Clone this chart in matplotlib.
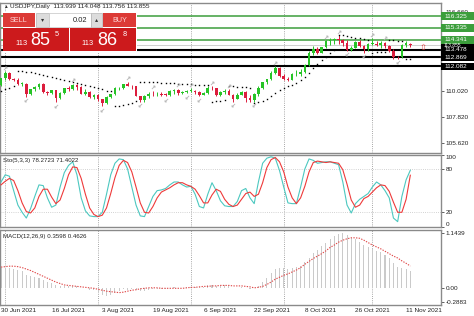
import matplotlib.pyplot as plt
import matplotlib.transforms as mtransforms
from matplotlib.patches import Rectangle
import numpy as np

plt.rcParams['font.family'] = ['Liberation Sans', 'DejaVu Sans']

W, H = 474, 316

# daily bars from 30 Jun 2021 to 12 Nov 2021
opens = [110.50, 111.10, 111.53, 111.05, 110.95, 110.62, 110.63, 109.77, 110.14, 110.36,
         110.62, 109.97, 109.83, 110.07, 109.45, 109.85, 110.27, 110.15, 110.55, 110.38,
         109.77, 109.91, 109.48, 109.71, 109.30, 109.04, 109.47, 109.77, 110.24, 110.30,
         110.59, 110.42, 110.41, 109.59, 109.26, 109.62, 109.77, 109.76, 109.79, 109.70,
         109.68, 110.00, 110.09, 109.84, 109.92, 110.02, 110.02, 109.93, 109.71, 109.84,
         110.27, 110.25, 109.71, 109.93, 110.04, 109.70, 109.38, 109.71, 109.94, 109.40,
         109.23, 109.74, 110.28, 110.73, 110.99, 111.50, 111.98, 111.29, 111.05, 110.95,
         111.42, 111.43, 111.61, 112.22, 113.25, 113.58, 113.25, 113.70, 114.21, 114.33,
         114.37, 114.34, 114.02, 113.46, 113.67, 114.13, 113.80, 113.57, 114.00, 114.01,
         113.92, 114.07, 113.77, 113.41, 112.89, 112.84, 113.90, 113.939]
highs = [111.12, 111.66, 111.65, 111.12, 111.15, 110.80, 110.70, 110.20, 110.40, 110.69,
         110.70, 110.05, 110.10, 110.08, 109.95, 110.30, 110.40, 110.60, 110.58, 110.42,
         110.15, 110.00, 109.75, 109.80, 109.35, 109.55, 109.80, 110.36, 110.38, 110.62,
         110.80, 110.48, 110.45, 109.62, 109.70, 109.90, 110.05, 109.95, 109.95, 109.85,
         110.10, 110.18, 110.18, 110.00, 110.10, 110.25, 110.10, 110.05, 109.90, 110.45,
         110.42, 110.30, 110.00, 110.15, 110.15, 109.75, 109.85, 110.05, 109.98, 109.65,
         109.85, 110.40, 110.80, 111.05, 111.68, 112.08, 112.00, 111.45, 111.20, 111.50,
         111.78, 111.85, 112.25, 113.40, 113.80, 113.75, 113.75, 114.30, 114.45, 114.50,
         114.70, 114.40, 114.30, 113.80, 114.20, 114.30, 113.90, 114.05, 114.45, 114.20,
         114.20, 114.15, 113.90, 113.55, 113.00, 114.00, 114.20, 114.048]
lows = [110.42, 110.98, 110.97, 110.86, 110.55, 110.40, 109.53, 109.70, 110.00, 110.20,
        109.85, 109.70, 109.72, 109.07, 109.36, 109.75, 110.05, 110.10, 110.10, 109.75,
        109.70, 109.40, 109.36, 109.18, 108.72, 108.88, 109.40, 109.70, 110.10, 110.20,
        110.40, 110.22, 109.55, 109.12, 109.12, 109.45, 109.60, 109.58, 109.55, 109.55,
        109.60, 109.80, 109.65, 109.80, 109.82, 109.95, 109.80, 109.59, 109.68, 109.80,
        110.08, 109.60, 109.60, 109.80, 109.65, 109.12, 109.30, 109.65, 109.12, 109.10,
        109.10, 109.60, 110.15, 110.60, 110.90, 111.45, 111.20, 110.90, 110.82, 110.90,
        111.25, 111.30, 111.55, 112.10, 113.05, 113.10, 113.20, 113.65, 113.90, 114.00,
        114.00, 113.80, 113.40, 113.40, 113.60, 113.70, 113.25, 113.40, 113.90, 113.80,
        113.65, 113.60, 113.30, 112.75, 112.72, 112.80, 113.75, 113.756]
closes = [111.10, 111.53, 111.05, 110.95, 110.62, 110.63, 109.77, 110.14, 110.36, 110.62,
          109.97, 109.83, 110.07, 109.45, 109.85, 110.27, 110.15, 110.55, 110.38, 109.77,
          109.91, 109.48, 109.71, 109.30, 109.04, 109.47, 109.77, 110.24, 110.30, 110.59,
          110.42, 110.41, 109.59, 109.26, 109.62, 109.77, 109.76, 109.79, 109.70, 109.68,
          110.00, 110.09, 109.84, 109.92, 110.02, 110.02, 109.93, 109.71, 109.84, 110.27,
          110.25, 109.71, 109.93, 110.04, 109.70, 109.38, 109.71, 109.94, 109.40, 109.23,
          109.74, 110.28, 110.73, 110.99, 111.50, 111.98, 111.29, 111.05, 110.95, 111.42,
          111.43, 111.61, 112.22, 113.25, 113.58, 113.25, 113.70, 114.21, 114.33, 114.37,
          114.34, 114.02, 113.46, 113.67, 114.13, 113.80, 113.57, 114.00, 114.01, 113.92,
          114.07, 113.77, 113.41, 112.89, 112.84, 113.90, 114.07, 113.855]

# parabolic SAR dots
sar = [110.00, 110.15, 110.30, 110.45,
       111.66, 111.66, 111.62, 111.58, 111.52, 111.45, 111.38, 111.30, 111.20, 111.10,
       111.00, 110.92, 110.85, 110.75, 110.65, 110.58, 110.52, 110.45, 110.38, 110.28,
       110.18, 110.05, 109.98,
       108.72, 108.76, 108.82, 108.90, 108.99, 109.15,
       110.80, 110.80, 110.78, 110.76, 110.74, 110.72, 110.70, 110.68, 110.66, 110.64,
       110.62, 110.60, 110.58, 110.56, 110.54, 110.52, 110.50,
       109.10, 109.13, 109.17, 109.22,
       110.45, 110.42, 110.39, 110.36, 110.33, 110.30,
       109.00, 109.05, 109.15, 109.35, 109.60, 109.85, 110.08, 110.25, 110.42, 110.56,
       110.72, 110.92, 111.18, 111.55, 111.95, 112.25, 112.60, 112.90, 113.20, 113.45,
       114.72, 114.70, 114.65, 114.58, 114.52, 114.45, 114.38, 114.32,
       113.25, 113.28, 113.30, 113.33,
       114.30, 114.27, 114.24, 114.20,
       112.72, 112.74]

fractal_up = [1, 17, 30, 36, 42, 45, 50, 54, 65, 77, 80, 88, 91]
fractal_down = [6, 13, 24, 33, 39, 44, 47, 55, 60, 82, 86, 94]

stoch_main = [62, 72, 70, 50, 30, 20, 12, 25, 42, 58,
              57, 40, 27, 30, 55, 75, 85, 90, 72, 40,
              22, 15, 14, 14, 20, 45, 72, 88, 94, 93,
              80, 55, 30, 15, 14, 28, 42, 50, 51, 53,
              58, 62, 62, 58, 55, 56, 45, 28, 26, 45,
              61, 50, 36, 29, 28, 28, 35, 50, 53, 40,
              32, 62, 88, 95, 97, 95, 78, 55, 33, 32,
              32, 55, 80, 94, 92, 88, 89, 90, 90, 88,
              86, 62, 30, 19, 32, 38, 42, 46, 55, 62,
              58, 50, 40, 12, 7, 42, 65, 78.2723]
stoch_signal = [58, 63, 67, 64, 50, 33, 21, 19, 26, 42,
                52, 52, 41, 32, 37, 53, 72, 83, 82, 67,
                45, 26, 17, 14, 16, 26, 46, 68, 85, 92,
                89, 76, 55, 33, 20, 19, 28, 40, 48, 51,
                54, 58, 61, 61, 58, 56, 52, 43, 33, 33,
                44, 52, 49, 38, 31, 28, 30, 38, 46, 48,
                42, 45, 61, 82, 93, 96, 90, 76, 55, 40,
                32, 40, 56, 76, 89, 91, 90, 89, 90, 89,
                88, 79, 59, 37, 27, 30, 39, 42, 48, 54,
                58, 57, 49, 34, 20, 20, 38, 71.4022]

macd_main = [0.42, 0.43, 0.42, 0.41, 0.38, 0.35, 0.28, 0.26, 0.24, 0.22,
             0.18, 0.14, 0.11, 0.07, 0.05, 0.05, 0.04, 0.05, 0.04, 0.01,
             0.00, -0.03, -0.04, -0.08, -0.13, -0.15, -0.14, -0.10, -0.06, -0.02,
             -0.03, -0.02, -0.04, -0.06, -0.05, -0.03, -0.02, -0.01, -0.01, -0.01,
             0.01, 0.02, 0.01, 0.01, 0.02, 0.03, 0.03, 0.02, 0.03, 0.06,
             0.07, 0.05, 0.05, 0.06, 0.04, 0.01, 0.01, 0.03, 0.01, -0.02,
             0.00, 0.05, 0.14, 0.22, 0.32, 0.40, 0.42, 0.42, 0.40, 0.42,
             0.44, 0.47, 0.54, 0.64, 0.74, 0.80, 0.87, 0.95, 1.02, 1.08,
             1.12, 1.1439, 1.10, 1.05, 1.02, 0.97, 0.90, 0.86, 0.82, 0.78,
             0.75, 0.70, 0.62, 0.52, 0.44, 0.42, 0.40, 0.3598]
macd_signal = [0.44, 0.45, 0.46, 0.46, 0.45, 0.43, 0.40, 0.37, 0.33, 0.29,
               0.25, 0.21, 0.17, 0.13, 0.10, 0.07, 0.06, 0.05, 0.04, 0.03,
               0.02, 0.01, 0.00, -0.02, -0.04, -0.06, -0.07, -0.08, -0.09, -0.08,
               -0.06, -0.04, -0.03, -0.01, 0.00, 0.01, 0.01, 0.01, 0.00, 0.00,
               0.00, 0.00, 0.00, 0.00, 0.01, 0.02, 0.02, 0.03, 0.04, 0.04,
               0.05, 0.05, 0.06, 0.06, 0.06, 0.05, 0.05, 0.05, 0.04, 0.03,
               0.01, 0.02, 0.04, 0.08, 0.13, 0.19, 0.23, 0.27, 0.30, 0.34,
               0.38, 0.43, 0.50, 0.56, 0.62, 0.67, 0.72, 0.78, 0.85, 0.90,
               0.96, 1.00, 1.03, 1.05, 1.05, 1.04, 1.00, 0.95, 0.90, 0.86,
               0.82, 0.77, 0.72, 0.67, 0.63, 0.57, 0.52, 0.4626]

green_levels = [116.325, 115.335, 114.341]
black_levels = [113.478, 112.869, 112.082]
bid_price = 113.855
symbol = 'USDJPY,Daily'
header_ohlc = [113.939, 114.048, 113.756, 113.855]

date_labels = ['30 Jun 2021', '16 Jul 2021', '3 Aug 2021', '19 Aug 2021', '6 Sep 2021',
               '22 Sep 2021', '8 Oct 2021', '26 Oct 2021', '11 Nov 2021']
date_bars = [0, 12, 24, 36, 48, 60, 72, 84, 96]
grid_bars = [1, 23, 45, 67, 88]

price_ticks = [105.620, 107.820, 110.020, 116.660]

BULL = '#27c427'
BEAR = '#dc1d3d'
GRID = '#8a8a8a'
LEVEL_GREEN = '#3c9e3c'

fig = plt.figure(figsize=(W / 100, H / 100), dpi=100)


def add_panel(top, bottom):
    a = fig.add_axes([0, 1 - bottom / H, 441 / W, (bottom - top) / H])
    a.set_xlim(-0.24, 104.27)
    a.set_xticks([])
    a.yaxis.tick_right()
    a.tick_params(axis='y', labelsize=4.6, length=2, width=0.5, pad=1.5,
                  colors='#222222')
    for s in a.spines.values():
        s.set_color('#8a8a8a')
        s.set_linewidth(1.0)
    for g in grid_bars:
        a.axvline(g, color=GRID, lw=0.6, ls=(0, (1, 1.6)), zorder=1)
    return a


# ---- main price panel ----
ax = add_panel(2.5, 152.5)
ax.set_ylim(104.83, 117.47)
ax.set_yticks(price_ticks)
ax.set_yticklabels([f"{t:.3f}" for t in price_ticks])

x = np.arange(len(closes))
o = np.array(opens)
c = np.array(closes)
cols = np.where(c >= o, BULL, BEAR)
ax.vlines(x, lows, highs, colors=cols, lw=0.7, zorder=3)
ax.bar(x, np.maximum(np.abs(c - o), 0.04), bottom=np.minimum(o, c), width=0.62,
       color=cols, lw=0, zorder=3)
ax.plot(x, sar, ls='none', marker='s', ms=1.0, mew=0, color='black', zorder=4)

for i in fractal_up:
    ax.plot(i, highs[i] + 0.3, marker=r'$\nearrow$', ms=2.4, mew=0.2,
            color='#b4b4b4', zorder=4)
for i in fractal_down:
    ax.plot(i, lows[i] - 0.3, marker=r'$\swarrow$', ms=2.4, mew=0.2,
            color='#b4b4b4', zorder=4)

for lv in green_levels:
    ax.axhline(lv, color=LEVEL_GREEN, lw=1.1, zorder=2)
for lv in black_levels:
    ax.axhline(lv, color='black', lw=1.5, zorder=2)
ax.axhline(bid_price, color='#c8c8c8', lw=0.6, zorder=2)

ax.text(100, 113.72, '\u21e7', color='#e04040', fontsize=6, ha='center', va='center',
        family=['DejaVu Sans'], zorder=5)

trans = mtransforms.blended_transform_factory(ax.transAxes, ax.transData)


def price_box(y, fc, size=4.6):
    ax.add_patch(Rectangle((1.0, y - 0.33), 33 / 441, 0.66, transform=trans, fc=fc,
                           ec='none', clip_on=False, zorder=6))
    ax.text(1.0 + 3 / 441, y, f"{y:.3f}", transform=trans, color='white', fontsize=size,
            va='center', ha='left', clip_on=False, zorder=7)


price_box(bid_price, 'black', 3.6)
for lv in black_levels:
    price_box(lv, 'black')
for lv in green_levels:
    price_box(lv, LEVEL_GREEN)

# ---- stochastic ----
ax_st = add_panel(154.6, 226.7)
ax_st.set_ylim(0, 100)
ax_st.set_yticks([0, 20, 80, 100])
ax_st.set_yticklabels(['0', '20', '80', '100'])
lbls = ax_st.get_yticklabels()
lbls[0].set_va('bottom')
lbls[3].set_va('top')
ax_st.axhline(80, color='#c4c4c4', lw=0.6, ls=(0, (1, 1.6)))
ax_st.axhline(20, color='#c4c4c4', lw=0.6, ls=(0, (1, 1.6)))
ax_st.plot(x, stoch_main, color='#4cc8c0', lw=0.8, zorder=3)
ax_st.plot(x, stoch_signal, color='#ee3a3a', lw=0.8, zorder=3)
ax_st.text(0.007, 0.955, f"Sto(5,3,3) {stoch_main[-1]:.4f} {stoch_signal[-1]:.4f}",
           transform=ax_st.transAxes, fontsize=4.4, va='top', ha='left', color='#222222')

# ---- MACD ----
ax_md = add_panel(230, 305)
ax_md.set_ylim(-0.347, 1.212)
ax_md.set_yticks([-0.2883, 0.0, 1.1439])
ax_md.set_yticklabels(['-0.2883', '0.00', '1.1439'])
ax_md.bar(x, macd_main, width=0.25, color='#cacaca', lw=0, zorder=2)
ax_md.plot(x, macd_signal, color='#e04848', lw=0.8, ls=(0, (1.2, 1.2)), zorder=3)
ax_md.text(0.007, 0.95, f"MACD(12,26,9) {macd_main[-1]:.4f} {macd_signal[-1]:.4f}",
           transform=ax_md.transAxes, fontsize=4.4, va='top', ha='left', color='#222222')

# date labels
dtrans = mtransforms.blended_transform_factory(ax_md.transData, fig.transFigure)
for b, lab in zip(date_bars, date_labels):
    ax_md.text(b, 1 - 310.5 / H, lab, transform=dtrans, fontsize=4.6, ha='left',
               va='center', color='#222222', clip_on=False)

# ---- header ----
fig.text(3 / W, 1 - 6.5 / H, '\u25b2', fontsize=3.4, va='center', ha='left', color='#333333')
fig.text(10 / W, 1 - 6.5 / H, symbol + '  ' + ' '.join(f"{v:.3f}" for v in header_ohlc),
         fontsize=4.6, va='center', ha='left', color='#222222')


# ---- one-click trading panel ----
def fbox(x0, y0, x1, y1, fc, ec='none'):
    fig.add_artist(Rectangle((x0 / W, 1 - y1 / H), (x1 - x0) / W, (y1 - y0) / H,
                             transform=fig.transFigure, fc=fc, ec=ec, lw=0.5, zorder=10))


def ftext(px, py, s, size, color='white', ha='center', va='center'):
    fig.text(px / W, 1 - py / H, s, fontsize=size, color=color, ha=ha, va=va, zorder=11)


fbox(2.5, 12, 137, 51.5, 'white')
fbox(3.3, 12.7, 35, 26.7, '#dc3a36')
fbox(36, 12.7, 48.5, 26.7, '#dcdcdc', '#b4b4b4')
fbox(48.5, 12.7, 90.5, 26.7, 'white', '#c4c4c4')
fbox(90.5, 12.7, 102, 26.7, '#dcdcdc', '#b4b4b4')
fbox(103, 12.7, 136, 26.7, '#dc3a36')
fbox(3.3, 27.5, 69, 50.7, '#cc1a1c')
fbox(70, 27.5, 136, 50.7, '#cc1a1c')

ftext(19, 20, 'SELL', 5.2, '#ffd6d6')
ftext(119.5, 20, 'BUY', 5.2, '#ffd6d6')
ftext(42.2, 20, '\u25be', 4.5, '#333333')
ftext(96.2, 20, '\u25b4', 4.5, '#333333')
ftext(87.5, 20, '0.02', 5.4, '#222222', ha='right')

ftext(15.5, 45, '113', 5.4, ha='left', va='baseline')
ftext(30.5, 45, '85', 13, ha='left', va='baseline')
ftext(55, 36, '5', 5.2, ha='left', va='baseline')
ftext(81.5, 45, '113', 5.4, ha='left', va='baseline')
ftext(97, 45, '86', 13, ha='left', va='baseline')
ftext(123, 36, '8', 5.2, ha='left', va='baseline')

fig.savefig('out.png', dpi=100)
